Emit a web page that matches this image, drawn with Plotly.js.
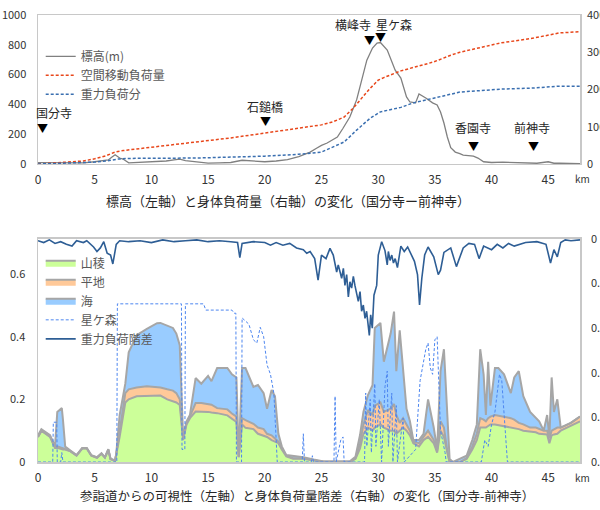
<!DOCTYPE html>
<html><head><meta charset="utf-8">
<script src="https://cdn.plot.ly/plotly-3.0.1.min.js"></script>
<style>html,body{margin:0;padding:0;background:#fff}#chart{width:600px;height:510px}</style>
</head><body><div id="chart"></div>
<script>
// ---------- Top chart data ----------
const elevKm = [0,1,2,3,4,5,5.5,6,6.2,6.5,6.8,7.2,7.5,8,8.9,10,11.3,12,12.5,13,13.7,15,16,17,18,19,20,21,22,23,24,24.6,25,25.5,26.4,26.9,27.5,28.1,28.6,29,29.5,29.9,30.2,30.8,31.5,32,32.5,32.8,33.3,33.6,34.2,34.8,35.2,35.5,35.8,36.1,36.4,36.8,37.2,37.5,38.4,38.8,39.3,40,41,42,43,44,45,45.5,46,47,47.8];
const elevM  = [9,8,5,5,8,15,18,22,27,45,62,40,33,8,10,14,20,28,33,22,15,6,8,10,25,20,15,20,30,50,80,107,125,141,181,240,315,430,584,697,778,812,815,765,630,577,450,416,410,470,443,410,396,349,275,181,110,80,70,60,53,40,15,10,12,8,5,5,15,5,5,3,3];

const loadKm  = [0,2,4,5,6,6.8,7.5,8.6,10,12,14.3,17,20,22,24,25,26,27,27.8,28.4,29.2,30,30.5,32,33.4,34.9,36.4,37.2,40.8,43.7,46,47.8];
const spaceLoad = [0,3,8,14,22,32,36,40,45,52,59,70,83,91,100,105,113,126,150,172,200,225,232,250,262,274,292,300,325,338,352,355];

const gravKm  = [0,3,5,6,7,8,14,20,23,25,26,27,28.1,29.3,30.2,31,32,33.1,35.5,37.2,40.8,43.7,46,47.8];
const gravLoad = [0,2,5,8,13,15,16,21,26,32,45,59,91,123,140,146,152,164,180,193,201,204,209,209];

// ---------- Bottom chart data ----------
const visKm = [0,0.3,1.06,1.5,1.7,2.1,2.2,2.4,2.8,3.4,3.9,4.3,4.7,5.2,5.6,5.9,6.2,6.4,6.8,6.9,7.2,7.7,8.0,8.7,9.6,10.5,10.8,11.4,11.9,12.2,12.5,12.8,13.1,13.4,13.9,14.4,15.0,15.3,15.8,16.7,17.1,17.5,17.7,18.0,18.3,19.0,19.4,19.9,20.2,20.6,20.9,21.2,21.5,21.9,22.5,23.4,24.3,25.2,27.5,28.0,28.4,28.7,29.1,29.5,29.7,30.2,30.5,30.8,31.1,31.4,31.6,31.9,32.2,32.5,32.8,33.1,33.6,34.0,34.4,34.9,35.2,35.5,35.8,36.1,36.3,36.6,37.2,37.8,38.3,38.7,39.0,39.3,39.5,39.7,39.9,40.3,40.6,41.1,41.7,42.0,42.4,42.8,43.4,43.9,44.2,44.6,44.9,45.1,45.3,45.5,45.8,46.1,47.0,47.8];
const sanryo = [0.08,0.1,0.08,0.045,0.045,0.04,0.04,0.04,0.035,0.02,
  0.043,0.043,0.02,0.013,0.026,0.014,0.038,0.009,0.004,0.024,
  0.08,0.19,0.2,0.21,0.21,0.212,0.212,0.2,0.195,0.19,
  0.182,0.07,0.12,0.14,0.161,0.161,0.16,0.158,0.156,0.149,
  0.138,0.128,0.015,0.12,0.109,0.105,0.09,0.085,0.08,0.07,
  0.065,0.06,0.04,0.018,0.01,0.01,0.005,0.001,0,0.01,
  0.043,0.09,0.11,0.1,0.11,0.12,0.11,0.105,0.1,0.1,
  0.09,0.1,0.11,0.1,0.085,0.06,0.05,0.07,0.08,0.06,
  0.03,0.1,0.08,0.03,0,0,0,0.01,0.04,0.07,
  0.11,0.11,0.11,0.115,0.12,0.12,0.118,0.115,0.112,0.11,
  0.105,0.1,0.098,0.095,0.09,0.088,0.088,0.06,0.085,0.088,
  0.09,0.1,0.115,0.13];
const heichi = [0,0,0.002,0.002,0.005,0.005,0.003,0.002,0.001,0.001,
  0.001,0.001,0.001,0.001,0.001,0.001,0.002,0.001,0.001,0.001,
  0.02,0.03,0.032,0.028,0.032,0.028,0.026,0.032,0.033,0.03,
  0.018,0.005,0.005,0.005,0.027,0.027,0.025,0.025,0.016,0.019,
  0.017,0.017,0.001,0.02,0.025,0.017,0.02,0.02,0.01,0.015,
  0.01,0.005,0.005,0.002,0.002,0.002,0.001,0,0,0.002,
  0.017,0.03,0.056,0.05,0.07,0.07,0.05,0.06,0.07,0.085,
  0.06,0.025,0.03,0.02,0.015,0.005,0.01,0.01,0.02,0.01,
  0.005,0.03,0.03,0.005,0,0,0,0.002,0.01,0.02,
  0.03,0.025,0.02,0.025,0.025,0.03,0.03,0.03,0.028,0.025,
  0.02,0.02,0.012,0.015,0.015,0.012,0.012,0.015,0.015,0.017,
  0.02,0.01,0.01,0.015];
const umi = [0.005,0.005,0.004,0.003,0.11,0.127,0.092,0.007,0.002,0.001,
  0.001,0.001,0.001,0.001,0.001,0,0.001,0,0,0.001,
  0.05,0.03,0.118,0.167,0.183,0.203,0.206,0.203,0.2,0.19,
  0.173,0.005,0.005,0.005,0.08,0.062,0.09,0.075,0.128,0.132,
  0.125,0.125,0.001,0.16,0.166,0.118,0.136,0.115,0.08,0.145,
  0.135,0.025,0.005,0.002,0.008,0.003,0.002,0.001,0.002,0.005,
  0.026,0.04,0.048,0.095,0.248,0.254,0.16,0.205,0.24,0.295,
  0.14,0.295,0.14,0.05,0.03,0.005,0.01,0.01,0.1,0.04,
  0.005,0.16,0.25,0.085,0.01,0,0.01,0.008,0.02,0.03,
  0.22,0.145,0.02,0.18,0.035,0.15,0.152,0.135,0.08,0.135,
  0.165,0.09,0.05,0.03,0.025,0,0.05,0.005,0.17,0.055,
  0.09,0,0,0];

const hoshiKm = [0,1.3,1.35,1.65,1.7,2.0,2.1,2.2,6.95,7.0,12.65,12.7,12.95,13.0,14.6,14.8,17.1,17.3,17.45,17.5,17.95,18.0,18.6,19.0,19.3,19.6,19.9,20.2,20.5,20.8,21.1,23.3,23.4,23.5,24.1,24.2,24.3,26.1,26.2,26.3,26.7,26.9,27.0,28.8,28.9,29.0,29.3,29.4,29.7,29.8,30.1,30.3,30.6,30.8,30.9,31.2,31.3,31.6,31.7,32.2,32.3,33.3,33.7,34.2,34.4,34.6,34.8,35.0,35.2,35.5,35.9,36.0,39.1,39.4,39.7,40.0,40.3,40.7,40.9,41.4,47.8];
const hoshiVis = [0,0,0.127,0.127,0,0,0.03,0,0,0.505,0.505,0.04,0.04,0.505,0.505,0.485,0.485,0.475,0.475,0,0,0.46,0.44,0.39,0.38,0.43,0.4,0.31,0.28,0.22,0,0,0.09,0,0,0.02,0,0,0.21,0,0.07,0.08,0,0,0.22,0.05,0.2,0.03,0.25,0.05,0.2,0,0.24,0.29,0.05,0.22,0,0.18,0,0.14,0,0.04,0.26,0.36,0.38,0.3,0.28,0.39,0.4,0.1,0.03,0,0,0.07,0.05,0.12,0.16,0.28,0.26,0,0];

const diffKm = [0,0.5,1,1.5,2,2.5,3,3.4,4,4.3,4.9,5.2,5.5,5.8,6.1,6.4,6.6,6.9,7.2,8,9,10,11,12,13,14,15,16,17,17.6,17.8,18,19,20,20.5,21,21.6,22.2,22.8,23.4,23.7,24.0,24.4,24.7,25.0,25.4,
  25.75,26.04,26.34,26.48,26.78,26.93,27.07,27.22,27.37,27.51,27.66,27.81,27.95,28.1,28.25,28.4,28.54,28.69,28.84,28.98,29.13,29.22,29.34,29.48,29.63,29.87,30.01,30.16,30.31,30.6,30.8,30.9,31.05,31.2,31.35,31.5,31.7,32.0,32.3,32.6,32.9,33.2,33.47,33.65,33.85,34.1,34.4,34.9,35.3,35.5,35.8,36.4,36.9,37.5,38.0,38.5,38.9,39.3,40,40.5,41,41.5,42,43,44,44.8,45.2,45.5,45.8,46.1,46.5,47,47.8];
const diffLoad = [0.002,0.004,0.001,0.005,0.003,0.006,0.008,0.002,0.004,0.002,0.009,0.014,0.01,0.003,0.016,0.018,0.028,0.006,0.002,0.003,0.002,0.004,0.001,0.003,0.002,0.001,0.003,0.002,0.003,0.004,0.021,0.005,0.003,0.004,0.007,0.004,0.007,0.005,0.01,0.012,0.016,0.014,0.022,0.046,0.018,0.022,
  0.0105,0.018,0.037,0.029,0.044,0.033,0.052,0.04,0.065,0.048,0.055,0.042,0.052,0.061,0.07,0.059,0.081,0.074,0.089,0.081,0.098,0.108,0.085,0.1,0.063,0.052,0.018,0.01,0.003,0.013,0.029,0.014,0.024,0.018,0.027,0.022,0.032,0.008,0.014,0.009,0.018,0.025,0.04,0.074,0.044,0.018,0.009,0.02,0.04,0.035,0.015,0.01,0.031,0.01,0.005,0.006,0.022,0.008,0.012,0.006,0.01,0.005,0.008,0.004,0.003,0.006,0.027,0.012,0.02,0.004,0.001,0.002,0.001];

const FONT = '"Noto Sans CJK JP", "Noto Sans", sans-serif';
const FRAME = '#c8c8c8';
const OUTLINE = '#a6a6a6';

const traces = [
  {x: elevKm, y: elevM, name: '標高(m)', type: 'scatter', mode: 'lines', xaxis: 'x', yaxis: 'y',
   line: {color: '#808080', width: 1.3}, legend: 'legend'},
  {x: loadKm, y: spaceLoad, name: '空間移動負荷量', type: 'scatter', mode: 'lines', xaxis: 'x', yaxis: 'y2',
   line: {color: '#e8471b', width: 1.5, dash: '3px,2px'}, legend: 'legend'},
  {x: gravKm, y: gravLoad, name: '重力負荷分', type: 'scatter', mode: 'lines', xaxis: 'x', yaxis: 'y2',
   line: {color: '#3a6fb0', width: 1.5, dash: '3px,2px'}, legend: 'legend'},

  {x: visKm, y: sanryo, name: '山稜', type: 'scatter', mode: 'lines', stackgroup: 'vis', xaxis: 'x2', yaxis: 'y3',
   fillcolor: '#ccff99', line: {color: OUTLINE, width: 2}, legend: 'legend2'},
  {x: visKm, y: heichi, name: '平地', type: 'scatter', mode: 'lines', stackgroup: 'vis', xaxis: 'x2', yaxis: 'y3',
   fillcolor: '#ffc999', line: {color: OUTLINE, width: 2}, legend: 'legend2'},
  {x: visKm, y: umi, name: '海', type: 'scatter', mode: 'lines', stackgroup: 'vis', xaxis: 'x2', yaxis: 'y3',
   fillcolor: '#99ccff', line: {color: OUTLINE, width: 2}, legend: 'legend2'},
  {x: hoshiKm, y: hoshiVis, name: '星ケ森', type: 'scatter', mode: 'lines', xaxis: 'x2', yaxis: 'y3',
   line: {color: '#4d86f0', width: 1, dash: '3px,2px'}, legend: 'legend2'},
  {x: diffKm, y: diffLoad, name: '重力負荷階差', type: 'scatter', mode: 'lines', xaxis: 'x2', yaxis: 'y4',
   line: {color: '#2e5e95', width: 1.6}, legend: 'legend2'}
];

const axisBase = {showgrid: false, zeroline: false, ticks: '', tickfont: {size: 11, color: '#333'}};
const xBase = Object.assign({}, axisBase, {range: [0, 47.8], tick0: 0, dtick: 5, showline: true, mirror: true,
  linecolor: FRAME, linewidth: 1.5, tickfont: {size: 12, color: '#333'}, ticklabelstandoff: 4});

function tri(x, y) {
  return {x: x, y: y, xref: 'x', yref: 'y', text: '▼', showarrow: false, height: 10, borderpad: 0,
    font: {size: 11, color: '#000'}};
}
function lab(t, x, y) {
  return {x: x, y: y, xref: 'x', yref: 'y', text: t, showarrow: false, height: 13, borderpad: 0,
    font: {size: 12, color: '#262626'}};
}

const layout = {
  width: 600, height: 510,
  margin: {l: 38, r: 20, t: 15, b: 48},
  paper_bgcolor: '#fff', plot_bgcolor: '#fff',
  font: {family: FONT, size: 11, color: '#333'},
  showlegend: true,
  xaxis: Object.assign({}, xBase, {domain: [0, 1], anchor: 'y'}),
  yaxis: Object.assign({}, axisBase, {domain: [0.6667, 1], anchor: 'x', range: [0, 1000], dtick: 200,
    showline: true, mirror: true, linecolor: FRAME, linewidth: 1.5, ticklabelstandoff: 8}),
  yaxis2: Object.assign({}, axisBase, {overlaying: 'y', anchor: 'x', side: 'right', range: [0, 400], dtick: 100,
    showline: false, ticklabelstandoff: 6}),
  xaxis2: Object.assign({}, xBase, {domain: [0, 1], anchor: 'y3'}),
  yaxis3: Object.assign({}, axisBase, {domain: [0, 0.4989], anchor: 'x2', range: [0, 0.712], tickvals: [0, 0.2, 0.4, 0.6],
    ticktext: ['0', '0.2', '0.4', '0.6'], showline: true, mirror: true, linecolor: FRAME, linewidth: 1.5, ticklabelstandoff: 9}),
  yaxis4: Object.assign({}, axisBase, {overlaying: 'y3', anchor: 'x2', side: 'right', range: [0.25, 0], dtick: 0.05,
    showline: false, ticklabelstandoff: 10}),
  legend: {x: 0.005, y: 0.94, xanchor: 'left', yanchor: 'top', bgcolor: 'rgba(0,0,0,0)',
    font: {size: 12, color: '#595959'}, traceorder: 'normal'},
  legend2: {x: 0.005, y: 0.478, xanchor: 'left', yanchor: 'top', bgcolor: 'rgba(0,0,0,0)',
    font: {size: 12, color: '#595959'}, traceorder: 'normal'},
  annotations: [
    lab('国分寺', 1.4, 344), tri(0.4, 240),
    lab('石鎚橋', 20.0, 383), tri(20.1, 288),
    lab('横峰寺', 27.75, 936), tri(29.25, 835),
    lab('星ケ森', 31.4, 936), tri(30.2, 855),
    lab('香園寺', 38.4, 242), tri(38.4, 121),
    lab('前神寺', 43.6, 242), tri(43.7, 121),
    {x: 1.0055, y: 0.634, xref: 'paper', yref: 'paper', xanchor: 'center', yanchor: 'middle', text: 'km', showarrow: false,
      font: {size: 10, color: '#333'}},
    {x: 1.0055, y: -0.034, xref: 'paper', yref: 'paper', xanchor: 'center', yanchor: 'middle', text: 'km', showarrow: false,
      font: {size: 10, color: '#333'}},
    {x: 0.462, y: 0.585, xref: 'paper', yref: 'paper', xanchor: 'center', yanchor: 'middle',
      text: '標高（左軸）と身体負荷量（右軸）の変化（国分寺ー前神寺）', showarrow: false, font: {size: 13, color: '#262626'}},
    {x: 0.497, y: -0.074, xref: 'paper', yref: 'paper', xanchor: 'center', yanchor: 'middle',
      text: '参詣道からの可視性（左軸）と身体負荷量階差（右軸）の変化（国分寺-前神寺）', showarrow: false, font: {size: 12.5, color: '#262626'}}
  ]
};

Plotly.newPlot('chart', traces, layout, {staticPlot: true, displayModeBar: false});
</script></body></html>
